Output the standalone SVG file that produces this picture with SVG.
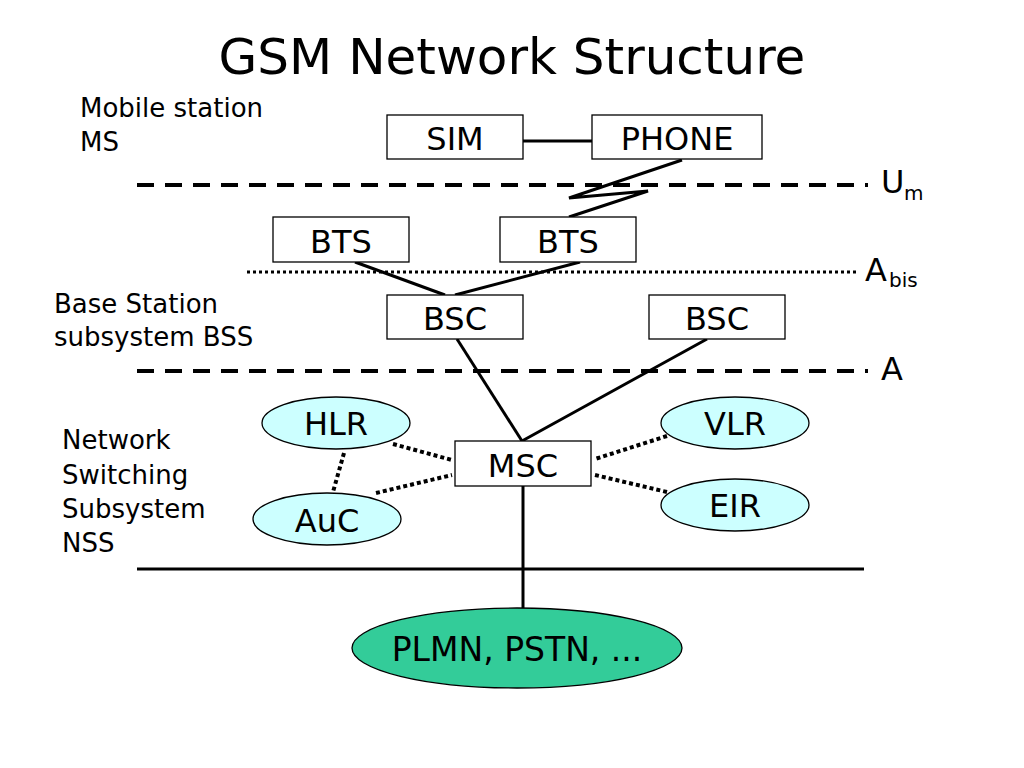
<svg xmlns="http://www.w3.org/2000/svg" width="1024" height="768" viewBox="0 0 1024 768">
<style>
text{font-family:"Comic Sans MS","DejaVu Sans","Liberation Sans",sans-serif;fill:#000}
.box{fill:#fff;stroke:#000;stroke-width:1.3}
.ell{fill:#ccffff;stroke:#000;stroke-width:1.3}
.lbl{font-size:32px;text-anchor:middle}
.side{font-size:26px}
.solid{stroke:#000;stroke-width:3;fill:none}
.dash{stroke:#000;stroke-width:4;stroke-dasharray:17 11;fill:none}
.dot{stroke:#000;stroke-width:3;stroke-dasharray:3 3;fill:none}
.dotf{stroke:#000;stroke-width:4;stroke-dasharray:4 3;fill:none}
</style>
<rect width="1024" height="768" fill="#fff"/>
<text x="512" y="74" font-size="50" text-anchor="middle">GSM Network Structure</text>
<g id="side-labels">
<text class="side" x="80" y="117">Mobile station</text>
<text class="side" x="80" y="151">MS</text>
<text class="side" x="54" y="313">Base Station</text>
<text class="side" x="54" y="346">subsystem BSS</text>
<text class="side" x="62" y="449">Network</text>
<text class="side" x="62" y="484">Switching</text>
<text class="side" x="62" y="518">Subsystem</text>
<text class="side" x="62" y="552">NSS</text>
</g>
<g id="interfaces">
<line class="dash" x1="137" y1="185" x2="868" y2="185"/>
<text x="881" y="193" font-size="32">U</text><text x="904" y="200" font-size="20">m</text>
<line class="dot" x1="247" y1="272" x2="856" y2="272"/>
<text x="865" y="281" font-size="32">A</text><text x="889" y="287" font-size="20">bis</text>
<line class="dash" x1="137" y1="371" x2="868" y2="371"/>
<text x="881" y="380" font-size="32">A</text>
</g>
<g id="connectors">
<line class="solid" x1="523" y1="141" x2="592" y2="141"/>
<polyline class="solid" points="682,160 569,198 648,191 569,217"/>
<line class="solid" x1="355" y1="262" x2="445" y2="295"/>
<line class="solid" x1="580" y1="262" x2="455" y2="295"/>
<line class="solid" x1="457" y1="339" x2="522" y2="441"/>
<line class="solid" x1="707" y1="339" x2="522" y2="441"/>
<line class="dotf" x1="393" y1="444" x2="452" y2="460"/>
<line class="dotf" x1="376" y1="493" x2="452" y2="475"/>
<line class="dotf" x1="667" y1="436" x2="595" y2="459"/>
<line class="dotf" x1="667" y1="492" x2="595" y2="475"/>
<line class="dotf" x1="344" y1="453" x2="333" y2="492"/>
<line class="solid" x1="523" y1="486" x2="523" y2="608"/>
<line class="solid" stroke-width="4" x1="137" y1="569" x2="864" y2="569"/>
</g>
<g id="sim"><rect class="box" x="387" y="115" width="136" height="44"/><text class="lbl" x="455" y="150">SIM</text></g>
<g id="phone"><rect class="box" x="592" y="115" width="170" height="44"/><text class="lbl" x="677" y="150">PHONE</text></g>
<g id="bts1"><rect class="box" x="273" y="217" width="136" height="45"/><text class="lbl" x="341" y="253">BTS</text></g>
<g id="bts2"><rect class="box" x="500" y="217" width="136" height="45"/><text class="lbl" x="568" y="253">BTS</text></g>
<g id="bsc1"><rect class="box" x="387" y="295" width="136" height="44"/><text class="lbl" x="455" y="330">BSC</text></g>
<g id="bsc2"><rect class="box" x="649" y="295" width="136" height="44"/><text class="lbl" x="717" y="330">BSC</text></g>
<g id="msc"><rect class="box" x="455" y="441" width="136" height="45"/><text class="lbl" x="523" y="477">MSC</text></g>
<g id="hlr"><ellipse class="ell" cx="336" cy="423" rx="74" ry="26"/><text class="lbl" x="336" y="435">HLR</text></g>
<g id="vlr"><ellipse class="ell" cx="735" cy="423" rx="74" ry="26"/><text class="lbl" x="735" y="435">VLR</text></g>
<g id="auc"><ellipse class="ell" cx="327" cy="519" rx="74" ry="26"/><text class="lbl" x="327" y="532">AuC</text></g>
<g id="eir"><ellipse class="ell" cx="735" cy="505" rx="74" ry="26"/><text class="lbl" x="735" y="517">EIR</text></g>
<g id="plmn"><ellipse fill="#33cc99" stroke="#000" stroke-width="1.3" cx="517" cy="648" rx="165" ry="40"/><text class="lbl" x="517" y="661" style="font-size:33px">PLMN, PSTN, ...</text></g>
</svg>
